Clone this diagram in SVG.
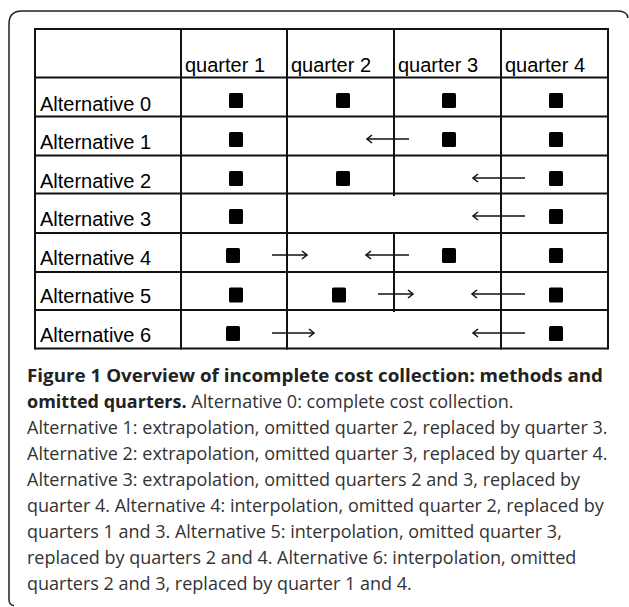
<svg xmlns="http://www.w3.org/2000/svg" width="629" height="607" viewBox="0 0 629 607">
<style>
.grid{stroke:#111;stroke-width:2;fill:none}
.frame{stroke:#222;stroke-width:1.5;fill:none}
.lbl{font-family:"Liberation Sans",Arial,sans-serif;font-size:20px;fill:#000}
.sq{fill:#000}
.arr{stroke:#111;stroke-width:1.6;fill:none;marker-end:url(#head)}
.cap{font-family:"Open Sans","Noto Sans",sans-serif;font-size:18px;fill:#333}
.b{font-weight:bold;fill:#222}
</style>
<defs>
<marker id="head" markerUnits="userSpaceOnUse" markerWidth="12" markerHeight="12" viewBox="-7 -6 9 12" refX="0" refY="0" orient="auto">
<path d="M -5 -4 L 0 0 L -5 4" stroke="#111" stroke-width="1.6" fill="none"/>
</marker>
</defs>
<rect width="629" height="607" fill="#fff"/>
<path class="frame" d="M 14 605.5 Q 9 605.5 9 599 L 9 24 Q 9 11 22 11 L 618 11 Q 627 11 628 18"/>
<g id="table-grid">
<path class="grid" d="M35 29H608 M35 77.5H608 M35 116.5H608 M35 155.5H608 M35 193.5H608 M35 233H608 M35 272H608 M35 310H608 M35 348.5H608"/>
<path class="grid" d="M35 28V349.5 M181 28V349.5 M287 28V349.5 M501 28V349.5 M608 28V349.5 M394 28V196 M394 233V312"/>
</g>
<g id="header">
<text class="lbl" x="185" y="72">quarter 1</text>
<text class="lbl" x="291" y="72">quarter 2</text>
<text class="lbl" x="398" y="72">quarter 3</text>
<text class="lbl" x="505" y="72">quarter 4</text>
</g>
<g id="alt0">
<text class="lbl" x="40" y="111">Alternative 0</text>
<rect class="sq" x="229" y="93" width="14" height="15" rx="1.5"/>
<rect class="sq" x="336" y="93" width="14" height="15" rx="1.5"/>
<rect class="sq" x="442" y="93" width="14" height="15" rx="1.5"/>
<rect class="sq" x="549" y="93" width="14" height="15" rx="1.5"/>
</g>
<g id="alt1">
<text class="lbl" x="40" y="149">Alternative 1</text>
<rect class="sq" x="229" y="132" width="14" height="15" rx="1.5"/>
<rect class="sq" x="442" y="132" width="14" height="15" rx="1.5"/>
<rect class="sq" x="549" y="132" width="14" height="15" rx="1.5"/>
</g>
<g id="alt2">
<text class="lbl" x="40" y="188">Alternative 2</text>
<rect class="sq" x="229" y="171" width="14" height="15" rx="1.5"/>
<rect class="sq" x="336" y="171" width="14" height="15" rx="1.5"/>
<rect class="sq" x="549" y="171" width="14" height="15" rx="1.5"/>
</g>
<g id="alt3">
<text class="lbl" x="40" y="226">Alternative 3</text>
<rect class="sq" x="229" y="209" width="14" height="15" rx="1.5"/>
<rect class="sq" x="549" y="209" width="14" height="15" rx="1.5"/>
</g>
<g id="alt4">
<text class="lbl" x="40" y="265">Alternative 4</text>
<rect class="sq" x="226" y="248" width="14" height="15" rx="1.5"/>
<rect class="sq" x="442" y="248" width="14" height="15" rx="1.5"/>
<rect class="sq" x="549" y="248" width="14" height="15" rx="1.5"/>
</g>
<g id="alt5">
<text class="lbl" x="40" y="303">Alternative 5</text>
<rect class="sq" x="229" y="287.5" width="14" height="15" rx="1.5"/>
<rect class="sq" x="332" y="287.5" width="14" height="15" rx="1.5"/>
<rect class="sq" x="549" y="287.5" width="14" height="15" rx="1.5"/>
</g>
<g id="alt6">
<text class="lbl" x="40" y="342">Alternative 6</text>
<rect class="sq" x="226" y="326" width="14" height="15" rx="1.5"/>
<rect class="sq" x="549" y="326" width="14" height="15" rx="1.5"/>
</g>
<g id="connectors">
<path class="arr" d="M409 139H367"/>
<path class="arr" d="M525 178H473"/>
<path class="arr" d="M525 216H473"/>
<path class="arr" d="M272 255H307"/>
<path class="arr" d="M409 255H366"/>
<path class="arr" d="M378 294H413"/>
<path class="arr" d="M525 294H472"/>
<path class="arr" d="M272 333H314"/>
<path class="arr" d="M525 333H473"/>
</g>
<g id="caption">
<text class="cap b" x="27" y="382" textLength="576" lengthAdjust="spacingAndGlyphs">Figure 1 Overview of incomplete cost collection: methods and</text>
<text class="cap" x="27" y="408"><tspan class="b">omitted quarters.</tspan> Alternative 0: complete cost collection.</text>
<text class="cap" x="27" y="434">Alternative 1: extrapolation, omitted quarter 2, replaced by quarter 3.</text>
<text class="cap" x="27" y="460">Alternative 2: extrapolation, omitted quarter 3, replaced by quarter 4.</text>
<text class="cap" x="27" y="486">Alternative 3: extrapolation, omitted quarters 2 and 3, replaced by</text>
<text class="cap" x="27" y="512">quarter 4. Alternative 4: interpolation, omitted quarter 2, replaced by</text>
<text class="cap" x="27" y="538">quarters 1 and 3. Alternative 5: interpolation, omitted quarter 3,</text>
<text class="cap" x="27" y="564">replaced by quarters 2 and 4. Alternative 6: interpolation, omitted</text>
<text class="cap" x="27" y="590">quarters 2 and 3, replaced by quarter 1 and 4.</text>
</g>
</svg>
